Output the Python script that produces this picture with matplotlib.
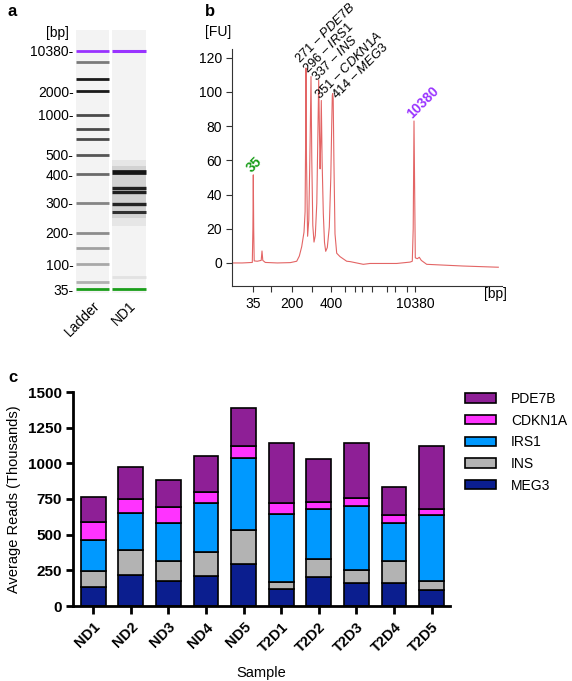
import matplotlib
matplotlib.use('Agg')
import matplotlib.pyplot as plt
import numpy as np
from matplotlib.patches import Patch

plt.rcParams['font.family'] = ['Liberation Sans', 'DejaVu Sans']
plt.rcParams['font.size'] = 10
plt.rcParams['mathtext.fontset'] = 'custom'
plt.rcParams['mathtext.rm'] = 'Liberation Sans'
plt.rcParams['mathtext.it'] = 'Liberation Sans:italic'

W, H = 572, 681

########## panel a : gel ##########
# ladder sizes and where each band sits on the gel (migration, px from top of image)
ladder_bp = [10380, 7000, 3000, 2000, 1000, 700, 600, 500, 400, 300, 200, 150, 100, 50, 35]
ladder_pos = [51, 61.7, 79, 91.3, 115, 129, 139.3, 155, 174.3, 202.7, 232.7, 248.3, 264, 282, 289.3]
ladder_col = ['#9933ff', '#7a7a7a', '#1a1a1a', '#1a1a1a', '#4a4a4a', '#4a4a4a', '#4a4a4a',
              '#555555', '#6a6a6a', '#858585', '#8c8c8c', '#a0a0a0', '#a8a8a8', '#b0b0b0', '#1a9e1a']
gel_labels = [10380, 2000, 1000, 500, 400, 300, 200, 100, 35]
nd1_pos = [51, 172.3, 188.3, 192.3, 204, 211.7, 276.7, 289.3]
nd1_col = ['#9933ff', '#151515', '#202020', '#202020', '#252525', '#303030', '#e2e2e2', '#1a9e1a']
nd1_lw = [2.2, 3.4, 2.4, 2.4, 2.4, 2.2, 2.0, 2.0]

########## panel b : electropherogram ##########
# x = migration position along the axis, y = fluorescence [FU]
trace_x = [0, 10, 20.0, 20.6, 21.0, 21.4, 21.9, 25, 28.9, 29.7, 30.5, 33, 45, 58,
           64.4, 67, 69.4, 71.7, 72.8, 73.3, 73.7, 74.2, 75.3, 76.5, 77.8, 78.7, 79.5, 80.5,
           81.7, 83, 84.5, 85.7, 86.4, 87.2, 87.8, 88.4, 89.0, 89.8, 91.0, 92.2, 93.4, 95,
           97, 98.5, 99.4, 100.0, 100.4, 100.9, 101.6, 102.7, 104.4, 107.7, 114.4, 117.7,
           131, 137.7, 164.4, 177.7, 180.0, 180.9, 181.7, 182.4, 183.0, 185, 187, 189,
           194.4, 231, 266]
trace_y = [0, 0, 0.3, 20, 51.5, 20, 1.2, 1.0, 1.5, 7, 1.5, 0.3, 0, 0.2,
           1.0, 4, 9.5, 18, 30, 70, 114, 60, 15.6, 25, 70, 109, 60, 22,
           12.2, 16, 35, 80, 107, 75, 55, 70, 95, 60, 29, 12, 6.8, 9,
           21, 50, 80, 98, 99, 96, 60, 17, 5.7, 3.7, 1.0, 0.8,
           -0.8, -0.3, -0.3, 0.5, 1.0, 20, 83, 40, 3.0, 2.5, 3.3, 1.5,
           -0.8, -1.8, -2.5]
bp_tick_pos = [21, 38.4, 59.7, 79.7, 98.7, 113, 123, 129.4, 139.4, 154.4, 162.7, 174.4, 182.7]
bp_tick_lab = ['35', '', '200', '', '400', '', '', '', '', '', '', '', '10380']
peak_bp = [271, 296, 337, 351, 414]
peak_gene = ['PDE7B', 'IRS1', 'INS', 'CDKN1A', 'MEG3']
# where each peak label starts (same units as the trace)
label_x = [67.7, 75.0, 84.4, 87.7, 104.4]
label_y = [116.8, 110.5, 106.0, 95.7, 95.3]

########## panel c : stacked reads ##########
samples = ['ND1', 'ND2', 'ND3', 'ND4', 'ND5', 'T2D1', 'T2D2', 'T2D3', 'T2D4', 'T2D5']
MEG3 = [136, 220, 173, 211, 297, 117, 201, 159, 161, 112]
INS = [112, 171, 145, 166, 239, 54, 129, 94, 153, 64]
IRS1 = [215, 259, 267, 344, 501, 473, 349, 451, 269, 463]
CDKN1A = [124, 103, 112, 75, 82, 79, 53, 56, 56, 42]
PDE7B = [180, 220, 185, 252, 266, 419, 295, 382, 196, 440]
genes = ['MEG3', 'INS', 'IRS1', 'CDKN1A', 'PDE7B']
gene_vals = [MEG3, INS, IRS1, CDKN1A, PDE7B]
gene_cols = ['#0b1e8f', '#b3b3b3', '#0099ff', '#ff33ff', '#8e1f96']

fig = plt.figure(figsize=(W / 100, H / 100), dpi=100)

def box(l, t, r, b):
    return [l / W, 1 - b / H, (r - l) / W, (b - t) / H]

# ---- a ----
axa = fig.add_axes(box(75, 30, 146.5, 293))
axa.axvspan(0.03, 0.95, color='#f3f3f3', lw=0)
axa.axvspan(1.04, 1.99, color='#f3f3f3', lw=0)
axa.axhspan(160, 226, xmin=1.04 / 2, xmax=1.99 / 2, color='#e6e6e6', lw=0)
axa.axhspan(166, 218, xmin=1.04 / 2, xmax=1.99 / 2, color='#d2d2d2', lw=0)
for p, c in zip(ladder_pos, ladder_col):
    axa.hlines(p, 0.03, 0.95, color=c, lw=2.0)
for p, c, lw in zip(nd1_pos, nd1_col, nd1_lw):
    axa.hlines(p, 1.04, 1.99, color=c, lw=lw)
axa.set_xlim(0, 2)
axa.set_ylim(293, 30)
axa.set_yticks([ladder_pos[ladder_bp.index(v)] for v in gel_labels])
axa.set_yticklabels(['%d-' % v for v in gel_labels], fontsize=10)
axa.set_xticks([0.49, 1.5])
axa.set_xticklabels(['Ladder', 'ND1'], rotation=45, ha='right', rotation_mode='anchor', fontsize=10)
axa.tick_params(length=0, pad=1)
axa.tick_params(axis='x', pad=4)
for s in axa.spines.values():
    s.set_visible(False)
axa.text(-0.08, 0.99, '[bp]', transform=axa.transAxes, ha='right', va='center', fontsize=10)

# ---- b ----
axb = fig.add_axes(box(232.3, 49, 501.7, 285.7))
axb.plot(trace_x, trace_y, color='#e36565', lw=0.8)
axb.set_xlim(0, 269.4)
axb.set_ylim(-13.3, 125.1)
axb.set_yticks(range(0, 121, 20))
axb.set_xticks(bp_tick_pos)
axb.set_xticklabels(bp_tick_lab)
axb.tick_params(direction='out', length=4, width=0.8, labelsize=10, color='#333333')
axb.tick_params(axis='x', pad=4)
for s in ['top', 'right']:
    axb.spines[s].set_visible(False)
for s in ['left', 'bottom']:
    axb.spines[s].set_color('#333333')
    axb.spines[s].set_linewidth(0.8)
axb.text(-0.053, 1.072, '[FU]', transform=axb.transAxes, ha='center', va='center', fontsize=10)
axb.text(0.975, -0.035, '[bp]', transform=axb.transAxes, ha='center', va='center', fontsize=10)
for x, y, bp, g in zip(label_x, label_y, peak_bp, peak_gene):
    axb.text(x, y, '%d – $\\mathit{%s}$' % (bp, g), rotation=45, rotation_mode='anchor',
             ha='left', va='baseline', fontsize=9.3)
axb.text(22.5, 57.5, '35', color='#1a9e1a', rotation=45, ha='center', va='center',
         fontsize=10, fontweight='bold')
axb.text(190.7, 93.6, '10380', color='#9933ff', rotation=45, ha='center', va='center',
         fontsize=10, fontweight='bold')

# ---- c ----
axc = fig.add_axes(box(73, 392, 450, 606))
xpos = np.arange(len(samples))
bottom = np.zeros(len(samples))
handles = []
for g, v, c in zip(genes, gene_vals, gene_cols):
    axc.bar(xpos, v, 0.66, bottom=bottom, color=c, edgecolor='black', linewidth=1.2, label=g)
    bottom += np.array(v)
    handles.append(Patch(facecolor=c, edgecolor='black', linewidth=1.2, label=g))
axc.set_xlim(-0.54, 9.49)
axc.set_ylim(0, 1500)
axc.set_yticks([0, 250, 500, 750, 1000, 1250, 1500])
axc.set_xticks(xpos)
axc.set_xticklabels(samples, rotation=45, ha='right', rotation_mode='anchor')
for lab in axc.get_xticklabels():
    lab.set_fontweight('bold')
    lab.set_fontsize(10.5)
for lab in axc.get_yticklabels():
    lab.set_fontweight('bold')
    lab.set_fontsize(11)
axc.tick_params(axis='y', direction='out', length=5, width=2, pad=3)
axc.tick_params(axis='x', direction='out', length=6, width=2, pad=4)
for s in ['top', 'right']:
    axc.spines[s].set_visible(False)
for s in ['left', 'bottom']:
    axc.spines[s].set_linewidth(2)
axc.set_ylabel('Average Reads (Thousands)', fontsize=10.5, labelpad=5)
axc.set_xlabel('Sample', fontsize=10.5, labelpad=8)
fig.legend(handles=handles[::-1], loc='upper left', bbox_to_anchor=(465 / W, 1 - 392 / H),
           frameon=False, fontsize=10, handlelength=2.2, handleheight=0.65,
           labelspacing=0.55, handletextpad=1.1, borderpad=0, borderaxespad=0)

fig.text(8 / W, 1 - 12 / H, 'a', fontsize=12, fontweight='bold', va='center')
fig.text(205 / W, 1 - 12 / H, 'b', fontsize=12, fontweight='bold', va='center')
fig.text(8 / W, 1 - 378 / H, 'c', fontsize=12, fontweight='bold', va='center')

fig.savefig('out.png', dpi=100)
